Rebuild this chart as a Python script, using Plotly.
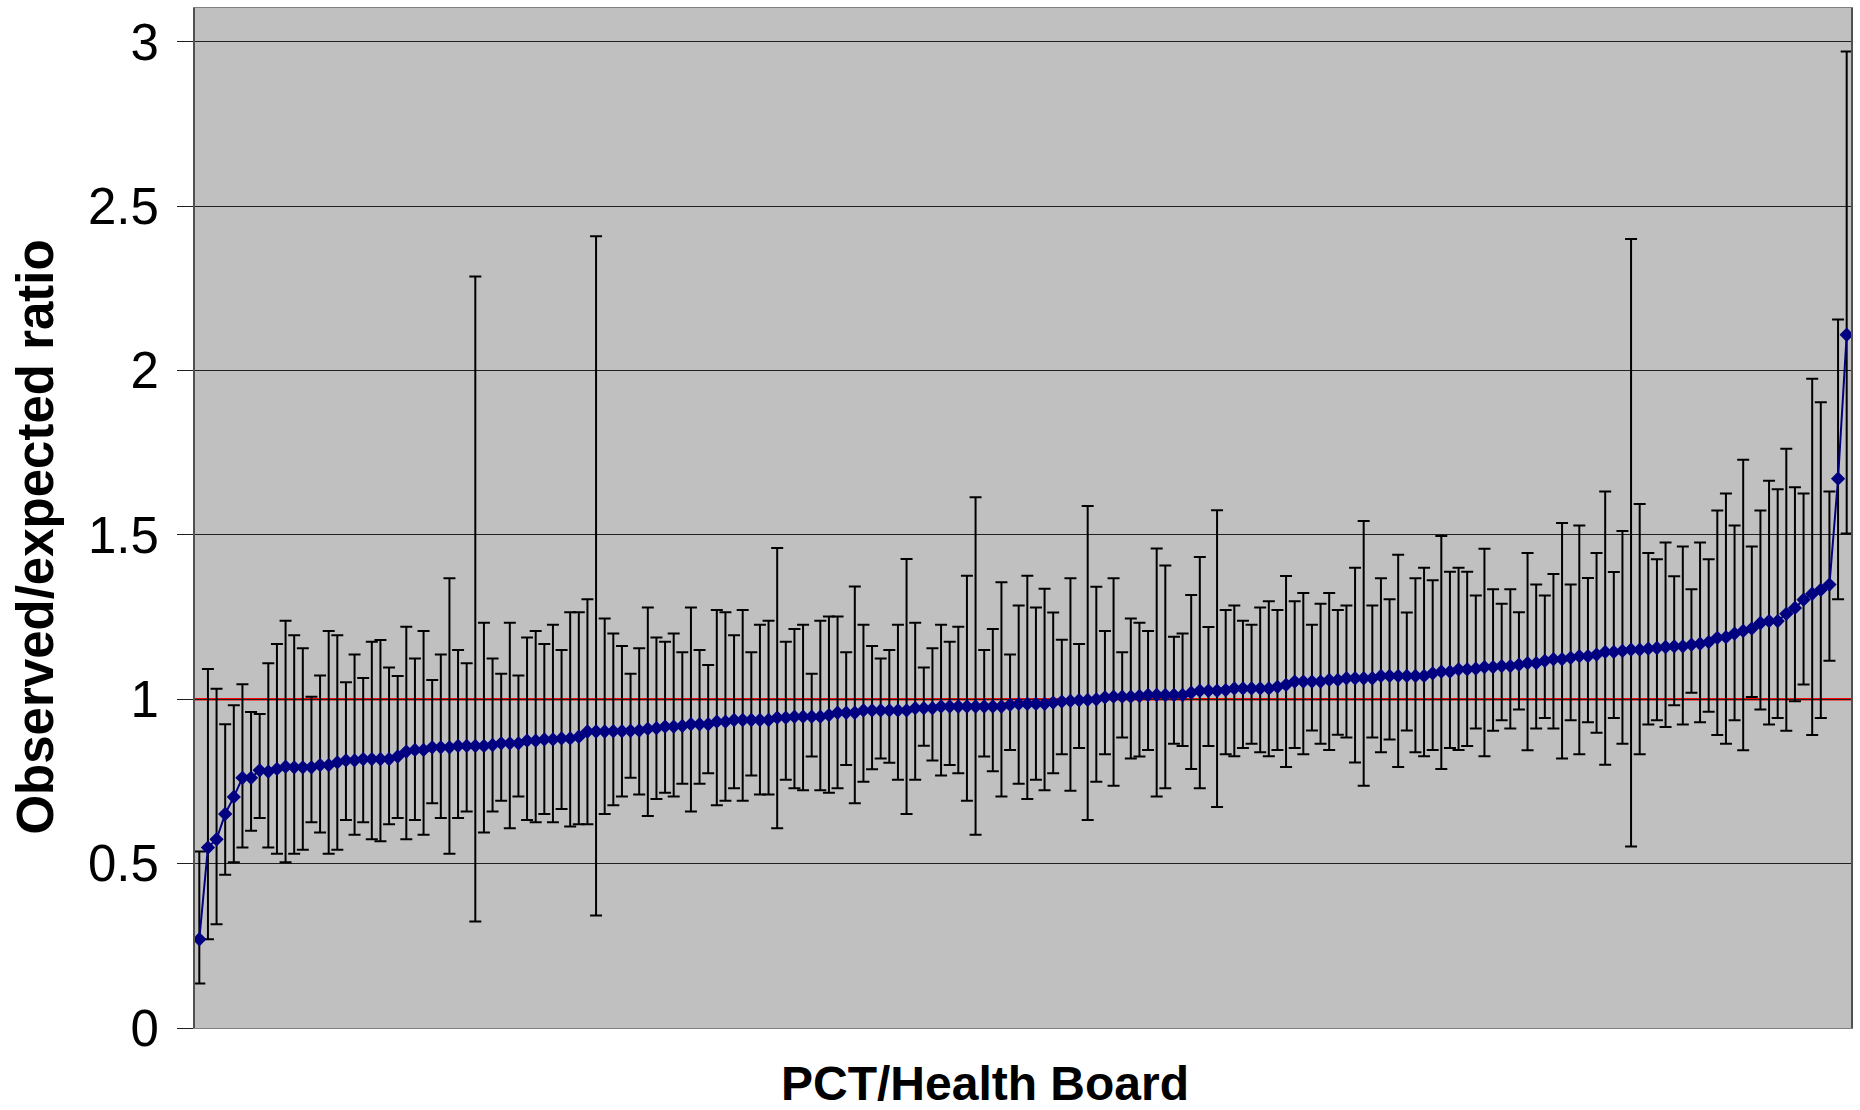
import plotly.graph_objects as go

# ---- data (sorted O/E ratios with 95% limits) ----
ratio = [
0.270, 0.549, 0.574, 0.651, 0.703, 0.761, 0.761, 0.784, 0.780, 0.788,
0.795, 0.793, 0.793, 0.793, 0.800, 0.800, 0.808, 0.814, 0.814, 0.818,
0.818, 0.818, 0.818, 0.826, 0.841, 0.846, 0.846, 0.854, 0.854, 0.854,
0.858, 0.858, 0.858, 0.858, 0.861, 0.866, 0.866, 0.866, 0.874, 0.874,
0.878, 0.878, 0.881, 0.881, 0.886, 0.902, 0.902, 0.902, 0.903, 0.903,
0.904, 0.905, 0.910, 0.912, 0.917, 0.917, 0.919, 0.924, 0.924, 0.924,
0.932, 0.932, 0.937, 0.937, 0.937, 0.937, 0.937, 0.944, 0.944, 0.947,
0.947, 0.947, 0.947, 0.952, 0.959, 0.959, 0.959, 0.966, 0.966, 0.966,
0.966, 0.966, 0.966, 0.973, 0.973, 0.973, 0.978, 0.978, 0.978, 0.978,
0.978, 0.978, 0.978, 0.978, 0.983, 0.986, 0.986, 0.986, 0.986, 0.990,
0.993, 0.995, 0.997, 0.998, 1.000, 1.006, 1.008, 1.008, 1.008, 1.010,
1.013, 1.013, 1.013, 1.013, 1.013, 1.020, 1.026, 1.026, 1.026, 1.028,
1.033, 1.033, 1.033, 1.033, 1.033, 1.038, 1.044, 1.054, 1.054, 1.054,
1.054, 1.059, 1.059, 1.064, 1.064, 1.064, 1.064, 1.071, 1.071, 1.071,
1.071, 1.071, 1.071, 1.079, 1.084, 1.084, 1.091, 1.091, 1.093, 1.098,
1.098, 1.101, 1.101, 1.105, 1.110, 1.110, 1.117, 1.122, 1.122, 1.126,
1.131, 1.131, 1.136, 1.144, 1.144, 1.147, 1.151, 1.151, 1.154, 1.156,
1.159, 1.161, 1.161, 1.166, 1.169, 1.174, 1.187, 1.189, 1.200, 1.208,
1.215, 1.232, 1.238, 1.238, 1.260, 1.278, 1.303, 1.321, 1.333, 1.349,
1.671, 2.109]

lower = [
0.135, 0.270, 0.316, 0.466, 0.504, 0.549, 0.600, 0.639, 0.549, 0.530,
0.504, 0.530, 0.542, 0.626, 0.595, 0.530, 0.542, 0.633, 0.588, 0.626,
0.574, 0.568, 0.620, 0.639, 0.574, 0.633, 0.588, 0.684, 0.639, 0.530,
0.639, 0.659, 0.324, 0.595, 0.659, 0.691, 0.608, 0.704, 0.633, 0.626,
0.651, 0.626, 0.666, 0.613, 0.620, 0.620, 0.342, 0.651, 0.678, 0.704,
0.761, 0.710, 0.645, 0.697, 0.716, 0.704, 0.743, 0.659, 0.743, 0.775,
0.678, 0.691, 0.729, 0.691, 0.768, 0.710, 0.710, 0.608, 0.755, 0.729,
0.723, 0.826, 0.723, 0.716, 0.729, 0.800, 0.684, 0.749, 0.787, 0.820,
0.807, 0.755, 0.651, 0.755, 0.859, 0.814, 0.768, 0.800, 0.775, 0.691,
0.588, 0.826, 0.781, 0.704, 0.846, 0.743, 0.697, 0.755, 0.723, 0.775,
0.833, 0.722, 0.852, 0.633, 0.749, 0.833, 0.737, 0.884, 0.820, 0.826,
0.846, 0.704, 0.729, 0.865, 0.858, 0.788, 0.729, 0.858, 0.672, 0.833,
0.827, 0.852, 0.865, 0.839, 0.827, 0.846, 0.794, 0.852, 0.833, 0.905,
0.865, 0.846, 0.892, 0.884, 0.808, 0.737, 0.884, 0.839, 0.878, 0.794,
0.905, 0.839, 0.827, 0.846, 0.788, 0.852, 0.846, 0.858, 0.911, 0.827,
0.904, 0.936, 0.911, 0.969, 0.845, 0.911, 0.943, 0.911, 0.820, 0.936,
0.833, 0.930, 0.898, 0.801, 0.943, 0.865, 0.552, 0.833, 0.923, 0.936,
0.916, 0.982, 0.923, 1.020, 0.930, 0.962, 0.891, 0.865, 0.936, 0.845,
1.007, 0.969, 0.923, 0.943, 0.904, 0.994, 1.045, 0.891, 0.943, 1.117,
1.304, 1.504]

upper = [
0.537, 1.092, 1.032, 0.924, 0.982, 1.046, 0.961, 0.955, 1.110, 1.168,
1.239, 1.195, 1.155, 1.008, 1.072, 1.208, 1.195, 1.052, 1.136, 1.065,
1.175, 1.180, 1.097, 1.071, 1.221, 1.124, 1.208, 1.059, 1.136, 1.368,
1.150, 1.110, 2.286, 1.233, 1.124, 1.078, 1.233, 1.072, 1.188, 1.208,
1.168, 1.227, 1.150, 1.265, 1.265, 1.304, 2.409, 1.246, 1.200, 1.162,
1.078, 1.155, 1.279, 1.188, 1.175, 1.200, 1.143, 1.279, 1.150, 1.104,
1.272, 1.265, 1.195, 1.272, 1.143, 1.227, 1.239, 1.460, 1.175, 1.214,
1.227, 1.078, 1.239, 1.252, 1.252, 1.143, 1.343, 1.227, 1.162, 1.124,
1.150, 1.227, 1.427, 1.233, 1.097, 1.155, 1.227, 1.175, 1.221, 1.376,
1.615, 1.150, 1.214, 1.356, 1.136, 1.285, 1.376, 1.279, 1.336, 1.264,
1.181, 1.368, 1.168, 1.588, 1.342, 1.208, 1.368, 1.143, 1.246, 1.233,
1.208, 1.459, 1.407, 1.190, 1.200, 1.317, 1.433, 1.220, 1.575, 1.272,
1.285, 1.239, 1.227, 1.279, 1.298, 1.272, 1.375, 1.298, 1.323, 1.227,
1.291, 1.323, 1.272, 1.285, 1.400, 1.542, 1.285, 1.368, 1.304, 1.440,
1.264, 1.368, 1.400, 1.362, 1.497, 1.388, 1.400, 1.388, 1.316, 1.458,
1.335, 1.291, 1.335, 1.265, 1.445, 1.349, 1.316, 1.381, 1.536, 1.349,
1.529, 1.369, 1.445, 1.632, 1.387, 1.512, 2.400, 1.594, 1.445, 1.426,
1.477, 1.374, 1.465, 1.335, 1.477, 1.426, 1.574, 1.626, 1.529, 1.729,
1.465, 1.574, 1.665, 1.639, 1.762, 1.645, 1.626, 1.975, 1.904, 1.632,
2.155, 2.971]

reference_value = 1.0
y_tick_values = [0, 0.5, 1, 1.5, 2, 2.5, 3]
y_tick_labels = ["0", "0.5", "1", "1.5", "2", "2.5", "3"]
x_title = "PCT/Health Board"
y_title = "Observed/expected ratio"

assert len(ratio) == len(lower) == len(upper)
n = len(ratio)
boards = list(range(1, n + 1))
err_plus = [u - r for u, r in zip(upper, ratio)]
err_minus = [r - l for r, l in zip(ratio, lower)]

FONT = "Liberation Sans, Arial, sans-serif"

fig = go.Figure()
fig.add_trace(go.Scatter(
    x=boards, y=ratio, mode="lines+markers",
    line=dict(color="#000080", width=2),
    marker=dict(symbol="diamond", size=11, color="#000080"),
    error_y=dict(type="data", symmetric=False, array=err_plus,
                 arrayminus=err_minus, color="black", thickness=2, width=6),
    showlegend=False, hoverinfo="x+y",
))

fig.add_shape(type="line", xref="paper", x0=0, x1=1, yref="y",
              y0=reference_value, y1=reference_value,
              line=dict(color="#FF0000", width=2.5), layer="between")

fig.update_layout(
    width=1860, height=1110,
    margin=dict(l=195, r=7, t=7, b=82, pad=0),
    paper_bgcolor="white", plot_bgcolor="#C0C0C0",
    font=dict(family=FONT, color="black"),
    xaxis=dict(range=[0.5, n + 0.5], showticklabels=False, ticks="",
               showgrid=False, zeroline=False, showline=True, mirror=True,
               linecolor="#808080", linewidth=1),
    yaxis=dict(range=[0, 3.103], tickvals=y_tick_values, ticktext=y_tick_labels,
               ticks="outside", ticklen=16, tickwidth=1, tickcolor="#202020",
               tickfont=dict(size=51, family=FONT, color="black"),
               ticklabelstandoff=8,
               showgrid=True, gridcolor="#202020", gridwidth=1, zeroline=False,
               showline=True, mirror=True, linecolor="#505050", linewidth=2),
    annotations=[
        dict(text="<b>%s</b>" % x_title, xref="paper", yref="paper",
             x=0.4768, y=-0.054, xanchor="center", yanchor="middle",
             showarrow=False, font=dict(size=48, family=FONT, color="black")),
        dict(text="<b>%s</b>" % y_title, xref="paper", yref="paper",
             x=-0.0965, y=0.481, xanchor="center", yanchor="middle",
             textangle=-90, showarrow=False,
             font=dict(size=51, family=FONT, color="black")),
    ],
)

fig.write_html("out.html")
